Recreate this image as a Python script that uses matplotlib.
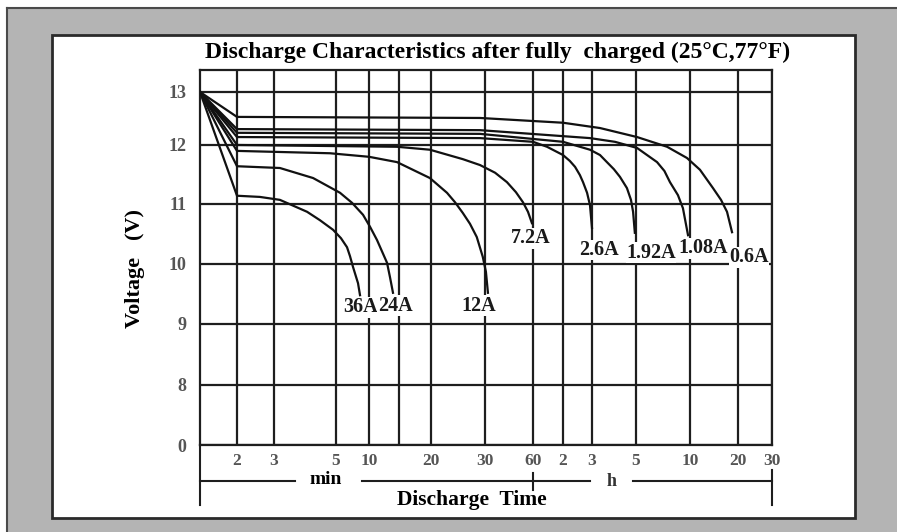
import numpy as np
import matplotlib.pyplot as plt
from matplotlib.patches import Rectangle
from matplotlib.lines import Line2D

# valors llegits del gràfic: temps en minuts, tensió en V
t_36A = [1, 2, 2.57, 3.15, 3.94, 4.38, 4.88, 5.55, 6.30, 6.71, 7.15, 7.94, 8.28]
v_36A = [13.0, 11.14, 11.12, 11.07, 10.87, 10.73, 10.57, 10.43, 10.28, 10.13, 9.95, 9.68, 9.48]

t_24A = [1, 2, 3.15, 4.14, 5.44, 7.0, 8.82, 10.14, 11.14, 12.76, 13.28, 13.83]
v_24A = [13.0, 11.64, 11.61, 11.44, 11.19, 11.02, 10.82, 10.62, 10.40, 10.02, 9.78, 9.52]

t_12A = [1, 2, 4.76, 10, 14.6, 19.8, 22.55, 23.95, 25.4, 26.8, 28.2, 29.5, 30.4, 31.3]
v_12A = [13.0, 11.90, 11.86, 11.80, 11.71, 11.44, 11.19, 11.03, 10.85, 10.67, 10.45, 10.12, 9.87, 9.52]

t_7_2A = [1, 2, 14.6, 19.8, 25.4, 28.9, 34.7, 41.2, 46.9, 51.9, 55.8, 59.1]
v_7_2A = [13.0, 12.00, 11.97, 11.92, 11.76, 11.66, 11.53, 11.37, 11.20, 11.03, 10.87, 10.68]

t_2_6A = [1, 2, 28.9, 60, 82.9, 120, 132, 142, 152, 158.8, 168, 175, 180]
v_2_6A = [13.0, 12.15, 12.13, 12.06, 11.97, 11.83, 11.73, 11.63, 11.49, 11.37, 11.19, 10.98, 10.60]

t_1_92A = [1, 2, 28.9, 120, 175, 197.5, 214, 232, 249, 270, 283, 290, 296]
v_1_92A = [13.0, 12.23, 12.21, 12.06, 11.92, 11.83, 11.71, 11.59, 11.46, 11.27, 11.07, 10.87, 10.52]

t_1_08A = [1, 2, 28.9, 175, 235, 304, 393, 432, 464, 514, 548, 585]
v_1_08A = [13.0, 12.30, 12.28, 12.13, 12.06, 11.95, 11.71, 11.56, 11.37, 11.15, 10.93, 10.48]

t_0_6A = [1, 2, 28.9, 120, 197.5, 304, 447, 577, 693, 836, 939, 1024, 1101]
v_0_6A = [13.0, 12.53, 12.51, 12.42, 12.32, 12.15, 11.97, 11.78, 11.58, 11.27, 11.07, 10.87, 10.53]

current_labels = ['36A', '24A', '12A', '7.2A', '2.6A', '1.92A', '1.08A', '0.6A']

x_ticks = [2, 3, 5, 10, 15, 20, 30, 60, 120, 180, 300, 600, 1200, 1800]
x_labels = ['2', '3', '5', '10', '', '20', '30', '60', '2', '3', '5', '10', '20', '30']
y_ticks = [0, 8, 9, 10, 11, 12, 13]
y_labels = ['0', '8', '9', '10', '11', '12', '13']

# eixos no uniformes: posició (px) de cada línia de la graella
W, H = 897, 532
XG_MIN = np.array([1, 2, 3, 5, 10, 15, 20, 30, 60, 120, 180, 300, 600, 1200, 1800])
XG_PX = np.array([200, 237, 274, 336, 369, 399, 431, 485, 533, 563, 592, 636, 690, 738, 772])
YG_V = np.array([0, 8, 9, 10, 11, 12, 13, 14])
YG_PX = 445 - np.array([445, 385, 324, 264, 204, 145, 92, 39])


def x_fwd(t):
    return np.interp(np.log10(np.maximum(t, 1e-6)), np.log10(XG_MIN), XG_PX)


def x_inv(p):
    return 10 ** np.interp(p, XG_PX, np.log10(XG_MIN))


def y_fwd(v):
    return np.interp(v, YG_V, YG_PX)


def y_inv(p):
    return np.interp(p, YG_PX, YG_V)


def fx(x):
    return x / W


def fy(y):
    return 1 - y / H


serif = 'Liberation Serif'
fig = plt.figure(figsize=(W / 100, H / 100), dpi=100, facecolor='white')

# marc gris i panell blanc
fig.add_artist(Rectangle((fx(7), fy(532)), 890 / W, 524 / H, transform=fig.transFigure,
                         facecolor='#b4b4b4', edgecolor='none', zorder=-3))
fig.add_artist(Line2D([fx(7), fx(7)], [fy(8), fy(532)], transform=fig.transFigure,
                      color='#4a4a4a', lw=1.5, zorder=-2))
fig.add_artist(Line2D([fx(7), fx(897)], [fy(8), fy(8)], transform=fig.transFigure,
                      color='#4a4a4a', lw=1.5, zorder=-2))
fig.add_artist(Rectangle((fx(52), fy(518)), 803 / W, 483 / H, transform=fig.transFigure,
                         facecolor='white', edgecolor='#2a2a2a', lw=2, zorder=-1))

ax = fig.add_axes([fx(200), fy(445), 572 / W, 375 / H])
ax.set_xscale('function', functions=(x_fwd, x_inv))
ax.set_yscale('function', functions=(y_fwd, y_inv))
ax.set_xlim(1, 1800)
ax.set_ylim(0, 13.415)

ax.set_xticks(x_ticks)
ax.set_xticklabels(x_labels)
ax.set_yticks(y_ticks)
ax.set_yticklabels(y_labels)
ax.tick_params(length=0, labelcolor='#555555')
ax.tick_params(axis='y', pad=10, labelsize=13)
ax.tick_params(axis='x', pad=6, labelsize=12.5)
for lab in ax.get_xticklabels() + ax.get_yticklabels():
    lab.set_family(serif)
    lab.set_fontweight('bold')
ax.grid(True, color='#1e1e1e', lw=1.6)
for s in ax.spines.values():
    s.set_color('#1e1e1e')
    s.set_linewidth(1.6)

series = [(t_36A, v_36A), (t_24A, v_24A), (t_12A, v_12A), (t_7_2A, v_7_2A),
          (t_2_6A, v_2_6A), (t_1_92A, v_1_92A), (t_1_08A, v_1_08A), (t_0_6A, v_0_6A)]
label_offsets = [(0, -2), (2, -3), (-9, -3), (-1, -5), (7, -12), (16, -10), (15, -3), (17, -15)]

for (t, v), name, off in zip(series, current_labels, label_offsets):
    ax.plot(t, v, color='#111111', lw=1.6, zorder=3, solid_joinstyle='round')
    ax.annotate(name, (t[-1], v[-1]), xytext=off, textcoords='offset pixels',
                ha='center', va='top', family=serif, fontweight='bold', fontsize=14.5,
                color='#1a1a1a', zorder=4,
                bbox=dict(facecolor='white', edgecolor='none', pad=0.3))

# títols
fig.text(fx(498), fy(52), 'Discharge Characteristics after fully  charged (25°C,77°F)',
         ha='center', va='center', family=serif, fontweight='bold', fontsize=17)
fig.text(fx(135), fy(268), 'Voltage   (V)', rotation=90, ha='center', va='center',
         family=serif, fontweight='bold', fontsize=16)
fig.text(fx(472), fy(500), 'Discharge  Time', ha='center', va='center',
         family=serif, fontweight='bold', fontsize=15.5)
fig.text(fx(326), fy(479), 'min', ha='center', va='center',
         family=serif, fontweight='bold', fontsize=14)
fig.text(fx(612), fy(482), 'h', ha='center', va='center',
         family=serif, fontweight='bold', fontsize=13, color='#333333')

# regla de temps sota l'eix
rule = [((200, 295), (481, 481)), ((362, 590), (481, 481)), ((633, 772), (481, 481)),
        ((200, 200), (445, 505)), ((772, 772), (470, 505)), ((533, 533), (473, 490))]
for xs, ys in rule:
    fig.add_artist(Line2D([fx(xs[0]), fx(xs[1])], [fy(ys[0]), fy(ys[1])],
                          transform=fig.transFigure, color='#1e1e1e', lw=1.5))

fig.savefig('out.png', dpi=100)
